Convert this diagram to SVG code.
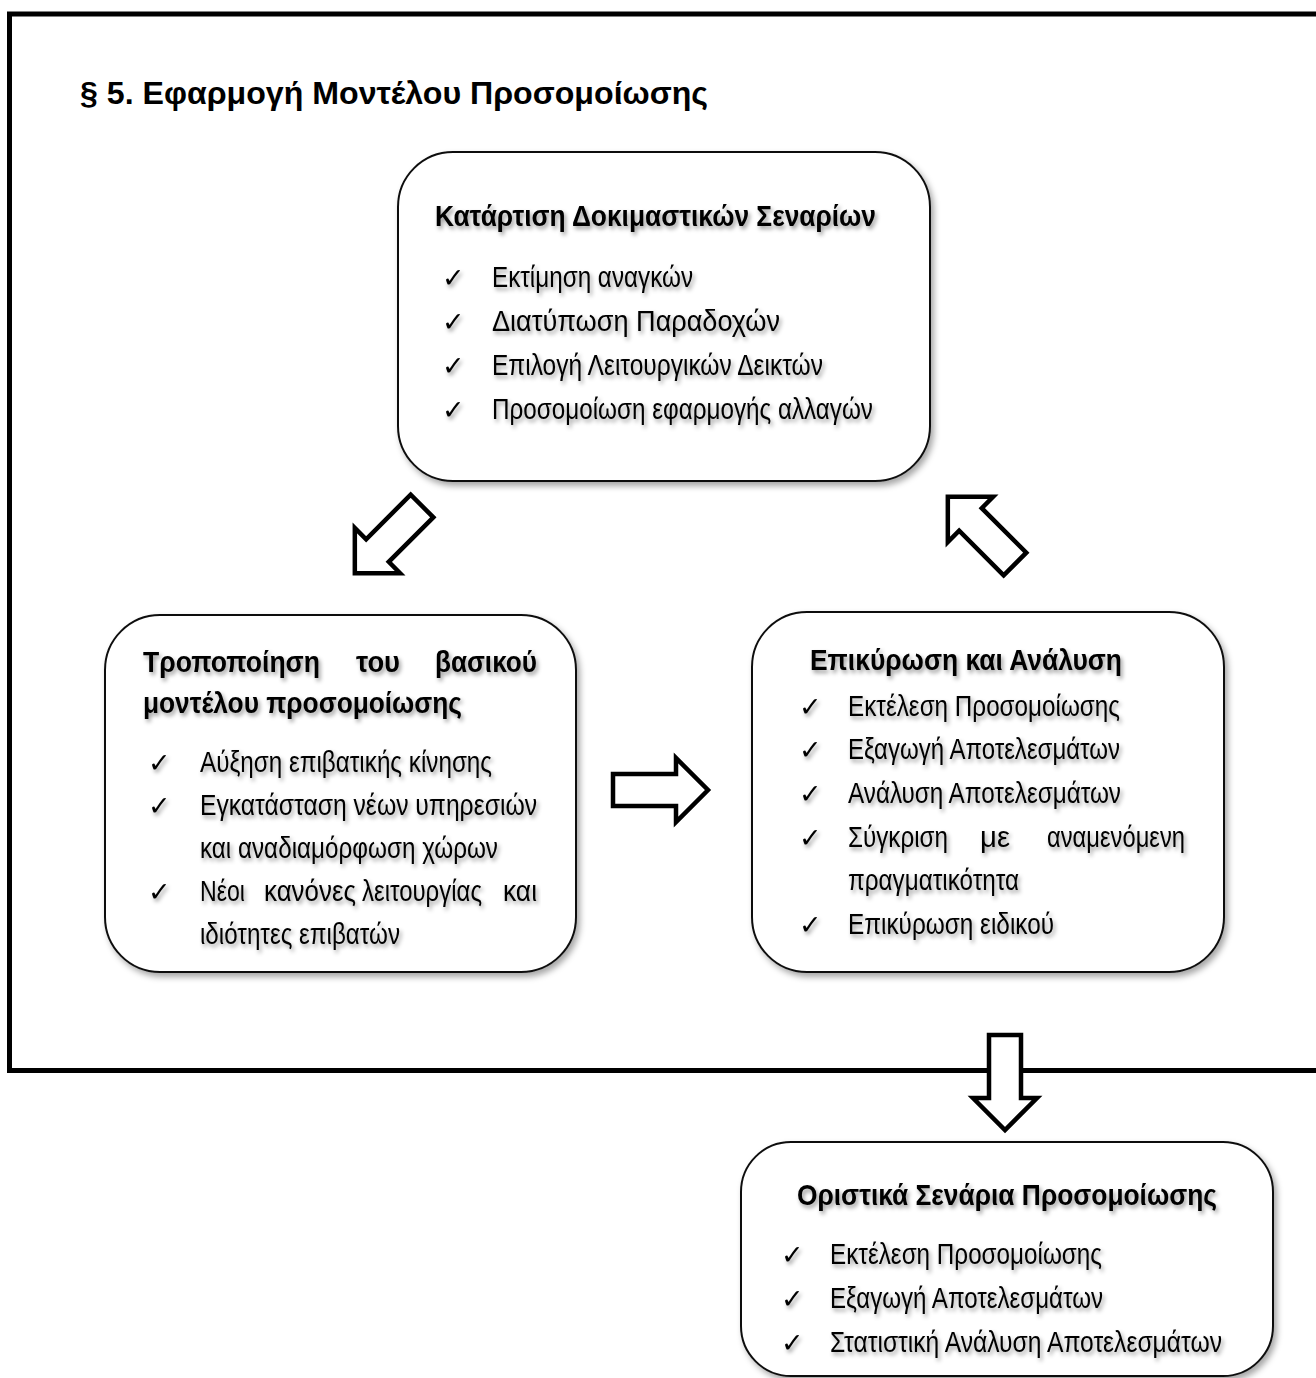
<svg xmlns="http://www.w3.org/2000/svg" width="1316" height="1378" viewBox="0 0 1316 1378">
<defs>
<filter id="bsh" x="-10%" y="-10%" width="125%" height="125%">
<feDropShadow dx="3" dy="4" stdDeviation="3" flood-color="#000" flood-opacity="0.35"/>
</filter>
<filter id="tsh" x="-5%" y="-30%" width="115%" height="170%">
<feDropShadow dx="2" dy="3" stdDeviation="2" flood-color="#000" flood-opacity="0.4"/>
</filter>
<path id="arr" d="M0,-16 L63,-16 L63,-32 L95,0 L63,32 L63,16 L0,16 Z"/>
</defs>
<style>
.box{fill:#fff;stroke:#111;stroke-width:2;filter:url(#bsh)}
.t{font-family:"Liberation Sans Narrow","Liberation Sans",Arial,sans-serif;fill:#000}
.h{font-size:30px;font-weight:bold;filter:url(#tsh)}
.i{font-size:29px;filter:url(#tsh)}
.ck{font-family:"DejaVu Sans",sans-serif;font-size:27px;fill:#000;filter:url(#tsh)}
.ar{fill:#fff;stroke:#000;stroke-width:4.5;stroke-linejoin:miter}
</style>
<rect width="1316" height="1378" fill="#fff"/>
<rect x="9.5" y="14" width="1330" height="1056.5" fill="none" stroke="#000" stroke-width="5"/>
<text class="t" x="80" y="104" font-size="32" font-weight="bold" textLength="628" lengthAdjust="spacingAndGlyphs">§ 5. Εφαρμογή Μοντέλου Προσομοίωσης</text>

<g id="connectors">
<use href="#arr" class="ar" transform="translate(422,506) rotate(135)"/>
<use href="#arr" class="ar" transform="translate(1015,564) rotate(225)"/>
<use href="#arr" class="ar" transform="translate(613,790)"/>
<use href="#arr" class="ar" transform="translate(1005,1035) rotate(90)"/>
</g>

<g id="scenarios">
<rect class="box" x="398" y="152" width="532" height="329" rx="55"/>
<text class="t h" x="435" y="226" textLength="441" lengthAdjust="spacingAndGlyphs">Κατάρτιση Δοκιμαστικών Σεναρίων</text>
<text class="ck" x="442" y="287">✓</text><text class="t i" x="492" y="287" textLength="201" lengthAdjust="spacingAndGlyphs">Εκτίμηση αναγκών</text>
<text class="ck" x="442" y="331">✓</text><text class="t i" x="492" y="331" textLength="288" lengthAdjust="spacingAndGlyphs">Διατύπωση Παραδοχών</text>
<text class="ck" x="442" y="375">✓</text><text class="t i" x="492" y="375" textLength="331" lengthAdjust="spacingAndGlyphs">Επιλογή Λειτουργικών Δεικτών</text>
<text class="ck" x="442" y="419">✓</text><text class="t i" x="492" y="419" textLength="381" lengthAdjust="spacingAndGlyphs">Προσομοίωση εφαρμογής αλλαγών</text>
</g>

<g id="modify">
<rect class="box" x="105" y="615" width="471" height="357" rx="55"/>
<text class="t h" x="143" y="672" textLength="177" lengthAdjust="spacingAndGlyphs">Τροποποίηση</text>
<text class="t h" x="356" y="672" textLength="44" lengthAdjust="spacingAndGlyphs">του</text>
<text class="t h" x="435" y="672" textLength="102" lengthAdjust="spacingAndGlyphs">βασικού</text>
<text class="t h" x="143" y="713" textLength="319" lengthAdjust="spacingAndGlyphs">μοντέλου προσομοίωσης</text>
<text class="ck" x="148" y="772">✓</text><text class="t i" x="200" y="772" textLength="292" lengthAdjust="spacingAndGlyphs">Αύξηση επιβατικής κίνησης</text>
<text class="ck" x="148" y="815">✓</text><text class="t i" x="200" y="815" textLength="337" lengthAdjust="spacingAndGlyphs">Εγκατάσταση νέων υπηρεσιών</text>
<text class="t i" x="200" y="858" textLength="298" lengthAdjust="spacingAndGlyphs">και αναδιαμόρφωση χώρων</text>
<text class="ck" x="148" y="901">✓</text>
<text class="t i" x="200" y="901" textLength="45" lengthAdjust="spacingAndGlyphs">Νέοι</text>
<text class="t i" x="264" y="901" textLength="92" lengthAdjust="spacingAndGlyphs">κανόνες</text>
<text class="t i" x="362" y="901" textLength="120" lengthAdjust="spacingAndGlyphs">λειτουργίας</text>
<text class="t i" x="503" y="901" textLength="34" lengthAdjust="spacingAndGlyphs">και</text>
<text class="t i" x="200" y="944" textLength="200" lengthAdjust="spacingAndGlyphs">ιδιότητες επιβατών</text>
</g>

<g id="validation">
<rect class="box" x="752" y="612" width="472" height="360" rx="55"/>
<text class="t h" x="810" y="670" textLength="312" lengthAdjust="spacingAndGlyphs">Επικύρωση και Ανάλυση</text>
<text class="ck" x="799" y="716">✓</text><text class="t i" x="848" y="716" textLength="272" lengthAdjust="spacingAndGlyphs">Εκτέλεση Προσομοίωσης</text>
<text class="ck" x="799" y="759">✓</text><text class="t i" x="848" y="759" textLength="272" lengthAdjust="spacingAndGlyphs">Εξαγωγή Αποτελεσμάτων</text>
<text class="ck" x="799" y="803">✓</text><text class="t i" x="848" y="803" textLength="273" lengthAdjust="spacingAndGlyphs">Ανάλυση Αποτελεσμάτων</text>
<text class="ck" x="799" y="847">✓</text>
<text class="t i" x="848" y="847" textLength="100" lengthAdjust="spacingAndGlyphs">Σύγκριση</text>
<text class="t i" x="980" y="847" textLength="30" lengthAdjust="spacingAndGlyphs">με</text>
<text class="t i" x="1047" y="847" textLength="138" lengthAdjust="spacingAndGlyphs">αναμενόμενη</text>
<text class="t i" x="848" y="890" textLength="171" lengthAdjust="spacingAndGlyphs">πραγματικότητα</text>
<text class="ck" x="799" y="934">✓</text><text class="t i" x="848" y="934" textLength="206" lengthAdjust="spacingAndGlyphs">Επικύρωση ειδικού</text>
</g>

<g id="final">
<rect class="box" x="741" y="1142" width="532" height="234" rx="50"/>
<text class="t h" x="797" y="1205" textLength="420" lengthAdjust="spacingAndGlyphs">Οριστικά Σενάρια Προσομοίωσης</text>
<text class="ck" x="781" y="1264">✓</text><text class="t i" x="830" y="1264" textLength="272" lengthAdjust="spacingAndGlyphs">Εκτέλεση Προσομοίωσης</text>
<text class="ck" x="781" y="1308">✓</text><text class="t i" x="830" y="1308" textLength="273" lengthAdjust="spacingAndGlyphs">Εξαγωγή Αποτελεσμάτων</text>
<text class="ck" x="781" y="1352">✓</text><text class="t i" x="830" y="1352" textLength="392" lengthAdjust="spacingAndGlyphs">Στατιστική Ανάλυση Αποτελεσμάτων</text>
</g>
</svg>
